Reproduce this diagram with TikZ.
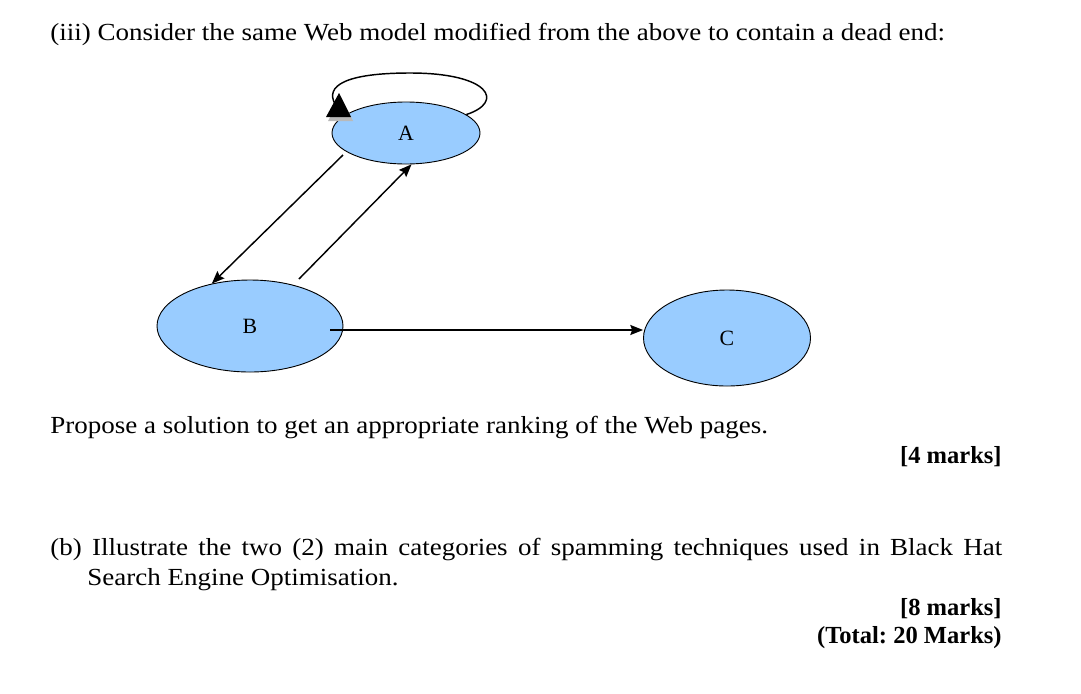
\documentclass[tikz,border=0pt]{standalone}
\usepackage{fontspec}
\setmainfont{Liberation Serif}
\newfontfamily\widesrf[FakeStretch=1.1]{Liberation Serif}
\usetikzlibrary{arrows.meta,shapes.geometric}
\definecolor{pagefill}{RGB}{153,204,255}
\frenchspacing
\begin{document}
\begin{tikzpicture}[x=0.55pt,y=-0.55pt,line join=round,
    >={Stealth[length=7pt,width=5.5pt,inset=1pt]},
    webpage/.style={ellipse,draw,fill=pagefill,line width=0.5pt,inner sep=0pt,
      font=\fontsize{12}{14}\selectfont},
    link/.style={->,line width=0.8pt},
    txt/.style={inner sep=0pt,font=\widesrf\fontsize{13.5}{15}\selectfont},
    marks/.style={txt,anchor=base east,font=\fontsize{13.5}{15}\selectfont\bfseries}]
  \useasboundingbox (0,0) rectangle (1081,693);
  \def\pgu{0.55pt}
  % the three pages
  \node[webpage,minimum width=148*\pgu,minimum height=62*\pgu] (A) at (406,133) {A};
  \node[webpage,minimum width=186*\pgu,minimum height=92*\pgu] (B) at (250,326) {B};
  \node[webpage,minimum width=167*\pgu,minimum height=96*\pgu] (C) at (727,338) {C};
  % links
  \coordinate (ab) at (343,155);
  \coordinate (ba) at (299,279);
  \coordinate (bc) at (330,330);
  \draw[link] (ab)--(B.132);
  \draw[link] (ba)--(A.-80);
  \draw[link] (bc)--(bc -| C.west);
  % self loop on A
  \draw[line width=0.8pt] (A.17) .. controls (505,102) and (490,73) .. (410,73)
    .. controls (345,73) and (325,86) .. (335,104);
  \fill[gray!55] (328,121)--(341,97)--(353,121)--cycle;
  \fill[black] (326,117)--(339,93)--(351,117)--cycle;
  % text
  \node[txt,anchor=base west] (head) at (50,40) {(iii) Consider the same Web model modified from the above to contain a dead end:};
  \node[txt,anchor=base west] (ask) at (50,433) {Propose a solution to get an appropriate ranking of the Web pages.};
  \node[marks] (mka) at (1002,463) {[4 marks]};
  \node[txt,anchor=base west] (qb) at (50,555) {\makebox[523.6pt][s]{(b) Illustrate the two (2) main categories of spamming techniques used in Black Hat}};
  \node[txt,anchor=base west] (qbb) at (87,585) {Search Engine Optimisation.};
  \node[marks] (mkb) at (1002,615) {[8 marks]};
  \node[marks] (tot) at (1002,643) {(Total: 20 Marks)};
\end{tikzpicture}
\end{document}
